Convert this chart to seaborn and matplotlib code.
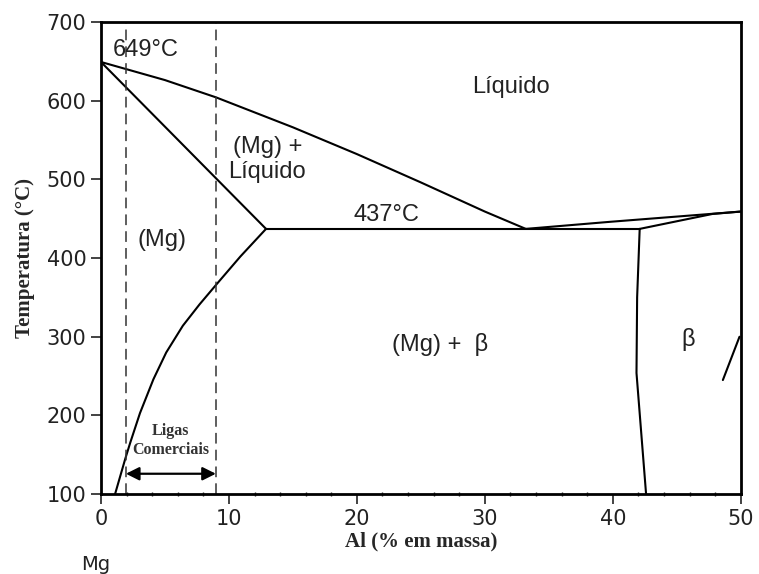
import numpy as np
import matplotlib.pyplot as plt
import seaborn as sns

# Diagrama de fases Mg-Al (lado rico em Mg)
liquidus_x = [0, 5, 9, 15, 20, 25, 30, 33.2]
liquidus_t = [649, 626, 604, 566, 532, 496, 459, 437]

solidus_x = [0, 12.9]
solidus_t = [649, 437]

solvus_x = [12.9, 10.9, 9.0, 7.7, 6.4, 5.1, 4.1, 3.05, 2.3, 1.9, 1.1]
solvus_t = [437, 402, 366, 341, 314, 280, 246, 203, 166, 145, 100]

eutetico_x = [12.9, 42.1]
eutetico_t = [437, 437]

liq_beta_x = [33.2, 39.8, 50]
liq_beta_t = [437, 446, 459]

sol_beta_x = [42.1, 47.8, 50]
sol_beta_t = [437, 456, 459]

beta_esq_x = [42.1, 41.9, 41.85, 42.6]
beta_esq_t = [437, 350, 254, 100]

beta_dir_x = [49.9, 48.6]
beta_dir_t = [300, 245]

ligas_x = [1.95, 8.98]   # faixa das ligas comerciais

regioes = ["649°C", "Líquido", "(Mg) +\nLíquido", "(Mg)", "437°C", "(Mg) +  β", "β"]
regioes_x = [0.9, 32.0, 13.0, 4.8, 22.3, 26.5, 45.9]
regioes_t = [664, 617, 525, 423, 455, 290, 296]

sns.set_style("ticks")

fig, ax = plt.subplots(figsize=(7.59, 5.74), dpi=100)
fig.subplots_adjust(left=0.133, right=0.976, bottom=0.139, top=0.962)

curvas = [(liquidus_x, liquidus_t), (solidus_x, solidus_t), (solvus_x, solvus_t),
          (eutetico_x, eutetico_t), (liq_beta_x, liq_beta_t), (sol_beta_x, sol_beta_t),
          (beta_esq_x, beta_esq_t), (beta_dir_x, beta_dir_t)]
for cx, ct in curvas:
    sns.lineplot(x=cx, y=ct, ax=ax, color='black', lw=1.5, sort=False, estimator=None)

# linhas tracejadas das ligas comerciais
for lx in ligas_x:
    ax.axvline(lx, color='#333333', lw=1.1, ls=(0, (7, 4)))

ax.annotate('', xy=(ligas_x[0], 126), xytext=(ligas_x[1], 126),
            arrowprops=dict(arrowstyle='<|-|>', color='black', lw=1.6, mutation_scale=20,
                            shrinkA=0, shrinkB=0))
ax.text(np.mean(ligas_x), 168, "Ligas\nComerciais", ha='center', va='center',
        family='Liberation Serif', fontweight='bold', fontsize=11.5, color='#333333',
        linespacing=1.3)

for txt, tx, tt in zip(regioes, regioes_x, regioes_t):
    ax.text(tx, tt, txt, ha='left' if txt == "649°C" else 'center', va='center',
            family='Liberation Sans', fontsize=17, color='#222222', linespacing=1.15)

ax.text(-0.4, -0.148, "Mg", transform=ax.get_xaxis_transform(), ha='center', va='center',
        family='DejaVu Sans', fontsize=14, color='#222222', clip_on=False)

ax.set_xlim(0, 50)
ax.set_ylim(100, 700)
ax.set_xticks(range(0, 51, 10))
ax.set_xticks(range(0, 51, 2), minor=True)
ax.set_yticks(range(100, 701, 100))
ax.tick_params(axis='both', which='major', labelsize=15, length=7, width=1.2,
               colors='#222222', direction='out')
ax.tick_params(axis='x', which='minor', length=3, width=1, direction='inout')

for s in ax.spines.values():
    s.set_visible(True)
    s.set_linewidth(2)
    s.set_color('black')

ax.set_xlabel("Al (% em massa)", family='Liberation Serif', fontweight='bold', fontsize=15,
              labelpad=2)
ax.set_ylabel("Temperatura (°C)", family='Liberation Serif', fontweight='bold', fontsize=15,
              labelpad=8)

plt.savefig("out.png", dpi=100)
